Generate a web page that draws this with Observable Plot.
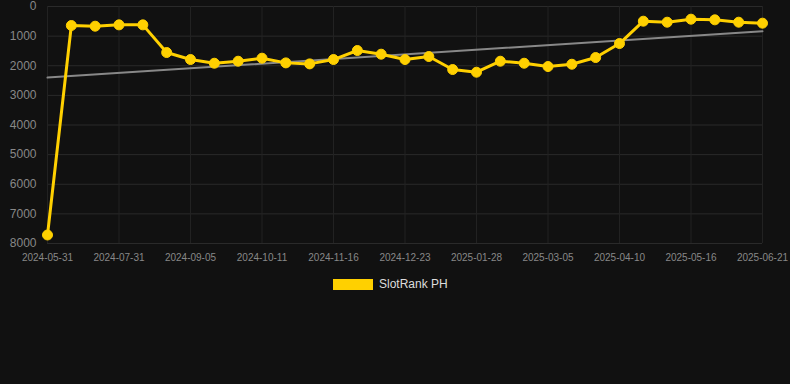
<!DOCTYPE html>
<html>
<head>
<meta charset="utf-8">
<script src="https://cdn.jsdelivr.net/npm/d3@7"></script>
<script src="https://cdn.jsdelivr.net/npm/@observablehq/plot@0.6"></script>
<style>
  html, body { margin: 0; padding: 0; background: #111111; }
  body { width: 790px; height: 384px; overflow: hidden; font-family: Arial, "Liberation Sans", sans-serif; }
  #chart svg { display: block; }
  .legend { position: absolute; left: 333px; top: 278px; display: flex; align-items: center; }
  .legend .sw { width: 40px; height: 11px; background: #FFD000; }
  .legend .lb { margin-left: 6px; color: #dddddd; font-size: 12px; line-height: 12px; }
</style>
</head>
<body>
<div id="chart"></div>
<div class="legend"><div class="sw"></div><div class="lb">SlotRank PH</div></div>
<script>
const dates = [
  "2024-05-31","2024-06-20","2024-07-10","2024-07-31","2024-08-12","2024-08-24","2024-09-05",
  "2024-09-17","2024-09-29","2024-10-11","2024-10-23","2024-11-04","2024-11-16","2024-11-28",
  "2024-12-10","2024-12-23","2025-01-04","2025-01-16","2025-01-28","2025-02-09","2025-02-21",
  "2025-03-05","2025-03-17","2025-03-29","2025-04-10","2025-04-22","2025-05-04","2025-05-16",
  "2025-05-28","2025-06-09","2025-06-21"
];
const ranks = [
  7713, 642, 665, 620, 620, 1554, 1790,
  1915, 1847, 1745, 1903, 1937, 1790, 1486,
  1610, 1790, 1689, 2128, 2218, 1847, 1915,
  2027, 1949, 1723, 1250, 496, 530, 428,
  450, 530, 563
];
const tickDates = ["2024-05-31","2024-07-31","2024-09-05","2024-10-11","2024-11-16","2024-12-23",
  "2025-01-28","2025-03-05","2025-04-10","2025-05-16","2025-06-21"];
const yTicks = [0, 1000, 2000, 3000, 4000, 5000, 6000, 7000, 8000];
const trendDates = ["2024-05-31", "2025-06-21"];
const trendValues = [2400, 834];

const idx = d => dates.indexOf(d);
const data = dates.map((d, i) => ({i, date: d, rank: ranks[i]}));
const trend = trendDates.map((d, k) => ({i: idx(d), rank: trendValues[k]}));
const xTicks = tickDates.map(idx);

const chart = Plot.plot({
  width: 790,
  height: 270,
  marginTop: 6,
  marginBottom: 27,
  marginLeft: 47,
  marginRight: 28,
  style: {background: "#111111", color: "#888888", fontFamily: "Arial, 'Liberation Sans', sans-serif", overflow: "visible"},
  x: {type: "linear", domain: [0, dates.length - 1], label: null},
  y: {domain: [0, 8000], reverse: true, label: null},
  marks: [
    Plot.gridY(yTicks, {stroke: "#2a2a2a", strokeOpacity: 1, strokeWidth: 1}),
    Plot.gridX(xTicks, {stroke: "#222222", strokeOpacity: 1, strokeWidth: 1}),
    Plot.axisY(yTicks, {tickSize: 0, tickPadding: 11, fontSize: 12, fill: "#888888", label: null, tickFormat: d => String(d)}),
    Plot.axisX(xTicks, {tickSize: 0, tickPadding: 10, fontSize: 10, fill: "#888888", label: null, tickFormat: i => dates[i]}),
    Plot.line(trend, {x: "i", y: "rank", stroke: "#888888", strokeWidth: 2}),
    Plot.line(data, {x: "i", y: "rank", stroke: "#FFD000", strokeWidth: 3}),
    Plot.dot(data, {x: "i", y: "rank", r: 5, fill: "#FFD000", stroke: "#FFD000", strokeWidth: 1})
  ]
});
document.getElementById("chart").appendChild(chart);
</script>
</body>
</html>
